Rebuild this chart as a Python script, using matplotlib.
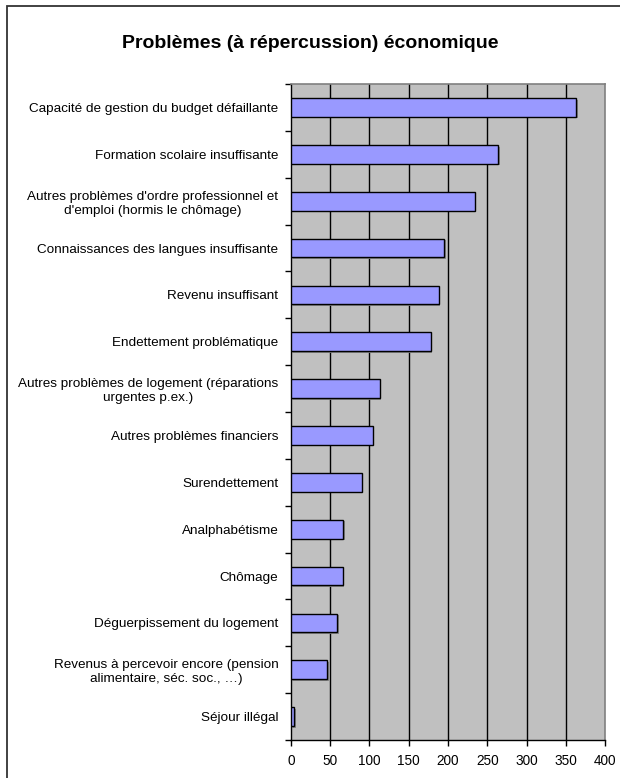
import numpy as np
import matplotlib
matplotlib.use('Agg')
from matplotlib import pyplot
from matplotlib import patheffects
from matplotlib.patches import Rectangle


#(0) Data, top to bottom:
LABELS = [
    'Capacité de gestion du budget défaillante',
    'Formation scolaire insuffisante',
    "Autres problèmes d'ordre professionnel et\nd'emploi (hormis le chômage)",
    'Connaissances des langues insuffisante',
    'Revenu insuffisant',
    'Endettement problématique',
    'Autres problèmes de logement (réparations\nurgentes p.ex.)',
    'Autres problèmes financiers',
    'Surendettement',
    'Analphabétisme',
    'Chômage',
    'Déguerpissement du logement',
    'Revenus à percevoir encore (pension\nalimentaire, séc. soc., …)',
    'Séjour illégal',
]
VALUES = [363, 264, 234, 195, 188, 178, 113, 104, 90, 67, 66, 59, 46, 4]
XTICKS = [0, 50, 100, 150, 200, 250, 300, 350, 400]
TITLE  = 'Problèmes (à répercussion) économique'


#(1) Plot
pyplot.rcParams['font.family'] = ['Liberation Sans', 'DejaVu Sans']
fig = pyplot.figure(figsize=(6.2, 7.78), dpi=100)
fig.patches.append(Rectangle((7/620, -0.1), 1.2, 1 - 6/778 + 0.1, transform=fig.transFigure,
                             fill=False, edgecolor='#333333', lw=1.3, zorder=0))

ax = fig.add_axes([0.469, 0.0488, 0.507, 0.8432])
ax.set_facecolor('#C0C0C0')
n   = len(VALUES)
pos = np.arange(n)
bars = ax.barh(pos, VALUES, height=0.4, color='#9999FF', edgecolor='black', lw=1.0, zorder=3)
for b in bars:
    b.set_path_effects([patheffects.SimplePatchShadow(offset=(1.2, -1.2), shadow_rgbFace='#808080', alpha=0.9),
                        patheffects.Normal()])

ax.set_xlim(0, 400)
ax.set_ylim(n - 0.5, -0.5)
ax.set_xticks(XTICKS)
ax.set_xticklabels([str(v) for v in XTICKS], fontsize=9.8)
for v in XTICKS[1:-1]:
    ax.axvline(v, color='black', lw=1.0, zorder=1)

ax.set_yticks(pos)
ax.set_yticklabels(LABELS, fontsize=9.7, linespacing=1.25)
for t in ax.get_yticklabels():
    t.set_multialignment('center')
ax.tick_params(axis='y', which='major', length=0, pad=9)
ax.set_yticks(np.arange(n + 1) - 0.5, minor=True)
ax.tick_params(axis='y', which='minor', length=4, width=1.0, direction='out')
ax.tick_params(axis='x', length=4, width=1.0, direction='out', pad=6)

for s in ['top', 'right']:
    ax.spines[s].set_color('#808080')
    ax.spines[s].set_linewidth(1.2)
for s in ['left', 'bottom']:
    ax.spines[s].set_color('black')
    ax.spines[s].set_linewidth(1.0)

fig.text(0.5, 1 - 43/778, TITLE, ha='center', va='center', fontsize=14, fontweight='bold')

fig.savefig('out.png', dpi=100)
